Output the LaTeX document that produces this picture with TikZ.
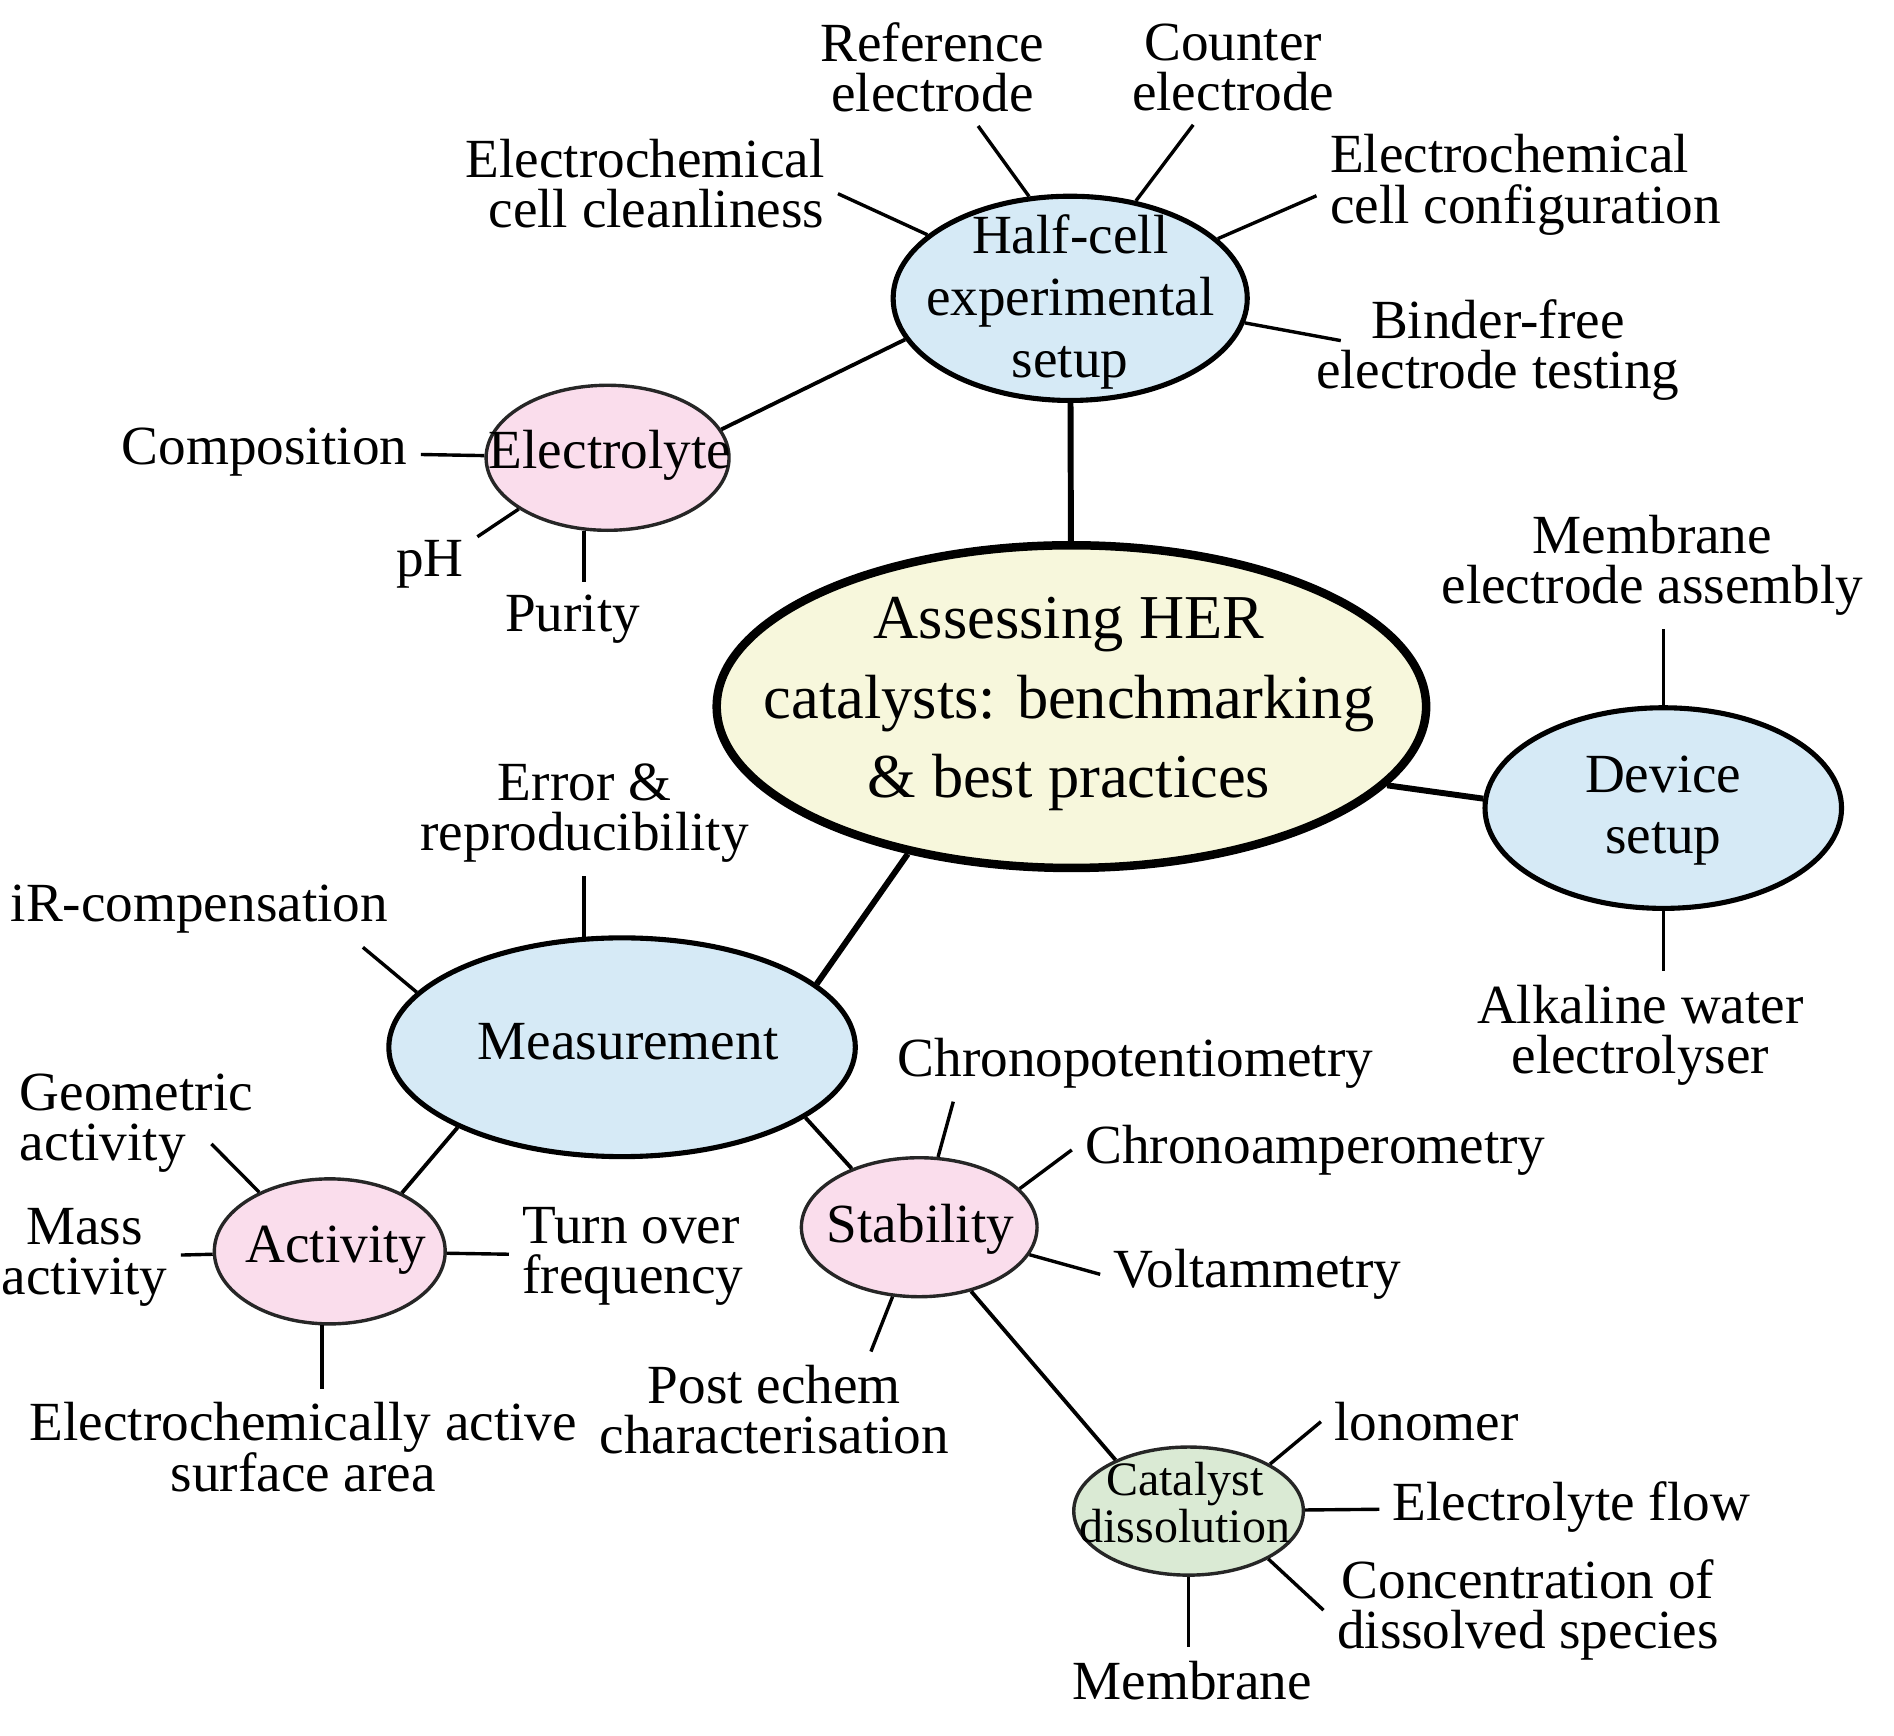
\documentclass[tikz,border=0pt]{standalone}
\usepackage{fontspec}
\setmainfont{Liberation Serif}
\usepackage{xcolor}
\usepackage{tikz}
\usetikzlibrary{shapes.geometric}

\definecolor{hubcream}{RGB}{247,247,220}
\definecolor{hubblue}{RGB}{214,234,246}
\definecolor{hubpink}{RGB}{250,221,236}
\definecolor{hubgreen}{RGB}{218,234,212}

\newcommand{\leaffont}{\fontsize{13}{11.8}\selectfont\lineskiplimit=-10pt}
\newcommand{\hubfont}{\fontsize{13}{14.5}\selectfont}
\newcommand{\corefont}{\fontsize{14.7}{18.7}\selectfont}
\newcommand{\smallhubfont}{\fontsize{11.3}{11.1}\selectfont\lineskiplimit=-10pt}

\begin{document}
\begin{tikzpicture}[
            x=0.01cm, y=-0.01cm,
            core/.style={ellipse, draw=black, line width=2pt, fill=hubcream},
            hub/.style={ellipse, draw=black, line width=1.2pt, fill=hubblue},
            subhub/.style={ellipse, draw=black!85, line width=0.8pt, fill=hubpink},
            hubtext/.style={align=center, inner sep=0pt, font=\hubfont},
            leaf/.style={align=center, inner sep=3pt, font=\leaffont},
            thickline/.style={line width=1.4pt},
            link/.style={line width=0.9pt},
            twig/.style={line width=0.8pt}
        ]
\useasboundingbox (0,0) rectangle (1568,1437);

% Hubs
\node[core, minimum width=5.87cm, minimum height=2.67cm] (central) at (887,585) {};
\node[hubtext, font=\corefont] (central-txt) at (885,583) {Assessing HER\\catalysts: benchmarking\\\& best practices};
\node[hub, minimum width=2.93cm, minimum height=1.69cm] (halfcell) at (886,247) {};
\node[hubtext] (halfcell-txt) at (886,250) {Half-cell\\experimental\\setup};
\node[hub, minimum width=2.95cm, minimum height=1.66cm] (device) at (1377,669) {};
\node[hubtext] (device-txt) at (1377,671) {Device\\setup};
\node[hub, minimum width=3.86cm, minimum height=1.81cm] (measure) at (515,867) {};
\node[hubtext] (measure-txt) at (520,862) {Measurement};
\node[subhub, minimum width=2.01cm, minimum height=1.20cm] (electrolyte) at (503,379) {};
\node[hubtext] (electrolyte-txt) at (505,377) {Electrolyte};
\node[subhub, minimum width=1.91cm, minimum height=1.20cm] (activity) at (273,1036) {};
\node[hubtext] (activity-txt) at (278,1035) {Activity};
\node[subhub, minimum width=1.95cm, minimum height=1.15cm] (stability) at (761,1016) {};
\node[hubtext] (stability-txt) at (762,1018) {Stability};
\node[subhub, fill=hubgreen, minimum width=1.90cm, minimum height=1.06cm] (catalyst) at (984,1251) {};
\node[hubtext, font=\smallhubfont] (catalyst-txt) at (981,1244) {Catalyst\\dissolution};

% Leaves
\node[leaf] (ref) at (772,56) {Reference\\electrode};
\node[leaf] (counter) at (1021,56) {Counter\\electrode};
\node[leaf, align=right] (cleanl) at (534,152) {Electrochemical\\cell cleanliness};
\node[leaf, align=left] (config) at (1263,153) {Electrochemical\\cell configuration};
\node[leaf] (binder) at (1240,290) {Binder-free\\electrode testing};
\node[leaf] (comp) at (219,374) {Composition};
\node[leaf] (ph) at (356,467) {pH};
\node[leaf] (purity) at (474,513) {Purity};
\node[leaf] (mea) at (1368,468) {Membrane\\electrode assembly};
\node[leaf] (alkaline) at (1358,857) {Alkaline water\\electrolyser};
\node[leaf] (error) at (484,673) {Error \&\\reproducibility};
\node[leaf] (irc) at (165,753) {iR-compensation};
\node[leaf, align=left] (geo) at (113,930) {Geometric\\activity};
\node[leaf] (mass) at (70,1041) {Mass\\activity};
\node[leaf, align=left] (tof) at (524,1040) {Turn over\\frequency};
\node[leaf] (ecsa) at (251,1198) {Electrochemically active\\surface area};
\node[leaf] (chrono-p) at (940,880) {Chronopotentiometry};
\node[leaf] (chrono-a) at (1089,952) {Chronoamperometry};
\node[leaf] (volt) at (1041,1055) {Voltammetry};
\node[leaf] (post) at (641,1167) {Post echem\\characterisation};
\node[leaf] (ionomer) at (1181,1177) {lonomer};
\node[leaf] (eflow) at (1301,1248) {Electrolyte flow};
\node[leaf] (conc) at (1265,1333) {Concentration of\\dissolved species};
\node[leaf] (membrane) at (987,1391) {Membrane};

\coordinate (geo-end) at (175,947);
\coordinate (binder-end) at (1110,282);

% Main branches
\draw[thickline] (central) -- (halfcell);
\draw[thickline] (central.-14) -- (device.177);
\draw[thickline] (central.222) -- (measure.18);

% Sub-branches
\draw[link] (halfcell.194) -- (electrolyte.14);
\draw[link] (measure.206) -- (activity.39);
\draw[link] (measure.-21) -- (stability.139);
\draw[link] (stability.-51) -- (catalyst.145);

% Half-cell leaves
\draw[twig] (ref.-52) -- (halfcell.112);
\draw[twig] (counter.-125) -- (halfcell.56);
\draw[twig] (cleanl.-3) -- (halfcell.156);
\draw[twig] (config.183) -- (halfcell.22);
\draw[twig] (binder-end) -- (halfcell.-8);
\draw[twig] (comp) -- (electrolyte);
\draw[twig] (ph.30) -- (electrolyte.210);
\draw[twig] (electrolyte.252) -- (electrolyte.252 |- purity.north);

% Device leaves
\draw[twig] (device.north) -- (device.north |- mea.south);
\draw[twig] (device.south) -- (device.south |- alkaline.north);

% Measurement leaves
\draw[twig] (measure.109) -- (measure.109 |- error.south);
\draw[twig] (irc.-13) -- (measure.165);
\draw[twig] (geo-end) -- (activity.140);
\draw[twig] (mass) -- (activity);
\draw[twig] (activity) -- (tof);
\draw[twig] (activity.264) -- (activity.264 |- ecsa.north);
\draw[twig] (chrono-p.192) -- (stability.75);
\draw[twig] (chrono-a.west) -- (stability.21);
\draw[twig] (volt.west) -- (stability.-14);
\draw[twig] (post.31) -- (stability.249);
\draw[twig] (ionomer.west) -- (catalyst.30);
\draw[twig] (catalyst) -- (eflow);
\draw[twig] (conc.west) -- (catalyst.-31);
\draw[twig] (catalyst.south) -- (catalyst.south |- membrane.north);

\end{tikzpicture}
\end{document}
